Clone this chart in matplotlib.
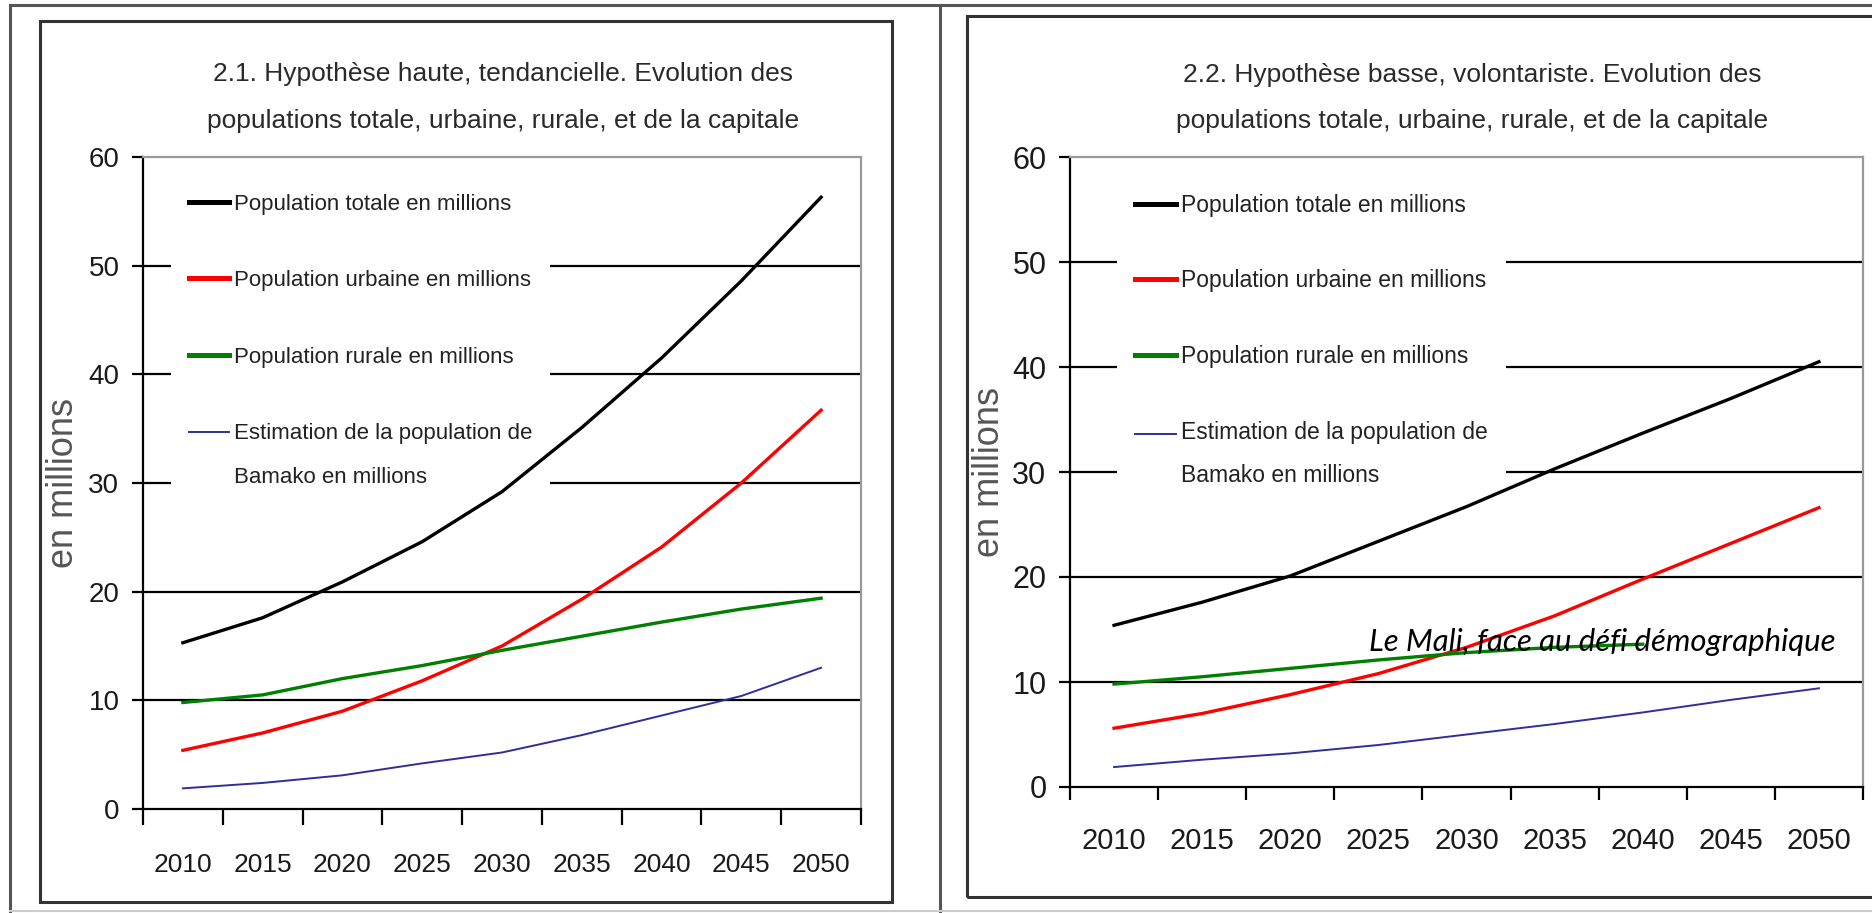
import numpy as np
import matplotlib
matplotlib.use("Agg")
import matplotlib.pyplot as plt
from matplotlib.lines import Line2D
from matplotlib.patches import Rectangle
from matplotlib.legend_handler import HandlerLine2D

# ---- data (millions) ----
years = ["2010", "2015", "2020", "2025", "2030", "2035", "2040", "2045", "2050"]

# 2.1 hypothese haute
total_haute = [15.3, 17.6, 20.9, 24.6, 29.2, 35.1, 41.5, 48.6, 56.3]
urbaine_haute = [5.4, 7.0, 9.0, 11.8, 15.0, 19.3, 24.1, 30.0, 36.7]
rurale_haute = [9.8, 10.5, 12.0, 13.2, 14.6, 15.9, 17.2, 18.4, 19.4]
bamako_haute = [1.9, 2.4, 3.1, 4.2, 5.2, 6.8, 8.6, 10.4, 13.0]

# 2.2 hypothese basse (rural line hidden under the caption after 2040)
total_basse = [15.4, 17.6, 20.1, 23.4, 26.7, 30.3, 33.7, 37.0, 40.5]
urbaine_basse = [5.6, 7.0, 8.8, 10.8, 13.3, 16.3, 19.8, 23.2, 26.6]
rurale_basse = [9.8, 10.5, 11.3, 12.1, 12.8, 13.3, 13.6, np.nan, np.nan]
bamako_basse = [1.9, 2.6, 3.2, 4.0, 5.0, 6.0, 7.1, 8.3, 9.4]

labels = ["Population totale en millions",
          "Population urbaine en millions",
          "Population rurale en millions",
          "Estimation de la population de\nBamako en millions"]
colors = ["#000000", "#ff0000", "#008000", "#2e2e9c"]
widths = [2.4, 2.4, 2.4, 1.4]

titles_haute = ["2.1. Hypothèse haute, tendancielle. Evolution des",
                "populations totale, urbaine, rurale, et de la capitale"]
titles_basse = ["2.2. Hypothèse basse, volontariste. Evolution des",
                "populations totale, urbaine, rurale, et de la capitale"]
caption = "Le Mali, face au défi démographique"

plt.rcParams["font.family"] = ["Liberation Sans", "DejaVu Sans"]

W, H = 1872, 913
fig = plt.figure(figsize=(W / 100, H / 100), dpi=100)


def fx(x):
    return x / W


def fy(y):
    return 1 - y / H


def box(x0, y0, x1, y1, color, lw):
    fig.add_artist(Rectangle((fx(x0), fy(y1)), fx(x1 - x0), (y1 - y0) / H,
                             transform=fig.transFigure, fill=False,
                             edgecolor=color, linewidth=lw))


def hline(x0, x1, y, color, lw):
    fig.add_artist(Line2D([fx(x0), fx(x1)], [fy(y), fy(y)],
                          transform=fig.transFigure, color=color, lw=lw))


def vline(x, y0, y1, color, lw):
    fig.add_artist(Line2D([fx(x), fx(x)], [fy(y0), fy(y1)],
                          transform=fig.transFigure, color=color, lw=lw))


# outer frame of the scanned page
hline(10, W, 5, "#555555", 2.2)
vline(10, 5, H, "#555555", 2.2)
vline(940, 5, H, "#555555", 2.2)
hline(10, W, 911, "#cccccc", 1.5)
box(40, 21, 892, 902, "#333333", 2.2)
box(967, 16, W + 10, 897, "#333333", 2.2)


class FirstLineHandler(HandlerLine2D):
    # put the handle next to the first line of a two-line label
    def __init__(self, shift, **kw):
        super().__init__(**kw)
        self.shift = shift

    def create_artists(self, legend, orig_handle, xdescent, ydescent,
                       width, height, fontsize, trans):
        arts = super().create_artists(legend, orig_handle, xdescent, ydescent,
                                      width, height, fontsize, trans)
        for a in arts:
            a.set_ydata(np.asarray(a.get_ydata()) + self.shift)
        return arts


def panel(rect, series, titles, title_x, title_y, xtick_fs, ytick_fs, xpad,
          ylab_x, leg_anchor, leg_fs, leg_space, tick_len):
    x0, y0, x1, y1 = rect
    ax = fig.add_axes([fx(x0), fy(y1), fx(x1 - x0), (y1 - y0) / H])
    x = np.arange(len(years))
    handles = []
    for vals, c, lw, lab in zip(series, colors, widths, labels):
        ln, = ax.plot(x, vals, color=c, lw=lw, label=lab, zorder=3)
        handles.append(ln)

    ax.set_xlim(-0.5, len(years) - 0.5)
    ax.set_ylim(0, 60)
    ax.set_yticks(range(0, 61, 10))
    ax.set_xticks(x)
    ax.set_xticklabels(years)
    ax.set_xticks(np.arange(-0.5, len(years)), minor=True)
    ax.tick_params(axis="x", which="major", length=0, pad=xpad,
                   labelsize=xtick_fs, labelcolor="#1a1a1a")
    ax.tick_params(axis="x", which="minor", length=tick_len, width=1.6,
                   direction="out", color="black")
    ax.tick_params(axis="y", length=8, width=1.6, pad=9,
                   labelsize=ytick_fs, labelcolor="#1a1a1a")

    ax.yaxis.grid(True, color="black", lw=1.6)
    ax.set_axisbelow(True)
    grid = ax.get_ygridlines()
    grid[0].set_visible(False)
    grid[-1].set_visible(False)

    for side in ["left", "bottom"]:
        ax.spines[side].set_color("black")
        ax.spines[side].set_linewidth(1.6)
    for side in ["top", "right"]:
        ax.spines[side].set_color("#9a9a9a")
        ax.spines[side].set_linewidth(1.6)

    ax.set_ylabel("en millions", fontsize=26, color="#555555", va="center")
    ax.yaxis.set_label_coords(ylab_x, 0.5)

    label_sp, line_sp, shift = leg_space
    leg = ax.legend(handles=handles, loc="upper left", bbox_to_anchor=leg_anchor,
                    borderaxespad=0, fontsize=leg_fs, frameon=True,
                    facecolor="white", edgecolor="none", framealpha=1,
                    fancybox=False, handlelength=1.8, handletextpad=0.22,
                    labelspacing=label_sp, borderpad=0.8,
                    handler_map={handles[3]: FirstLineHandler(leg_fs * shift)})
    leg.set_zorder(2.5)  # lines stay visible over the white legend box
    for t in leg.get_texts():
        t.set_color("#222222")
    leg.get_texts()[3].set_linespacing(line_sp)
    for lh, lw in zip(leg.legend_handles, widths):
        lh.set_linewidth(lw * 1.5 if lw > 2 else lw)

    for i, line in enumerate(titles):
        fig.text(fx(title_x), fy(title_y[i]), line, ha="center", va="baseline",
                 fontsize=19, color="#2a2a2a")
    return ax


ax1 = panel((143, 157, 861, 809),
            [total_haute, urbaine_haute, rurale_haute, bamako_haute],
            titles_haute, 503, [81, 128], 19, 20, 32,
            -0.111, (0.039, 0.971), 16, (2.5, 2.4, 1.05), 11.5)

ax2 = panel((1070, 157, 1863, 787),
            [total_basse, urbaine_basse, rurale_basse, bamako_basse],
            titles_basse, 1472, [82, 128], 21, 22, 29,
            -0.101, (0.059, 0.971), 16.5, (2.3, 2.1, 0.92), 9.5)

fig.text(fx(1369), fy(651), caption, ha="left", va="baseline", fontsize=22.4,
         style="italic", family=["Lato", "Open Sans", "DejaVu Sans"], color="black")

fig.savefig("out.png", dpi=100)
